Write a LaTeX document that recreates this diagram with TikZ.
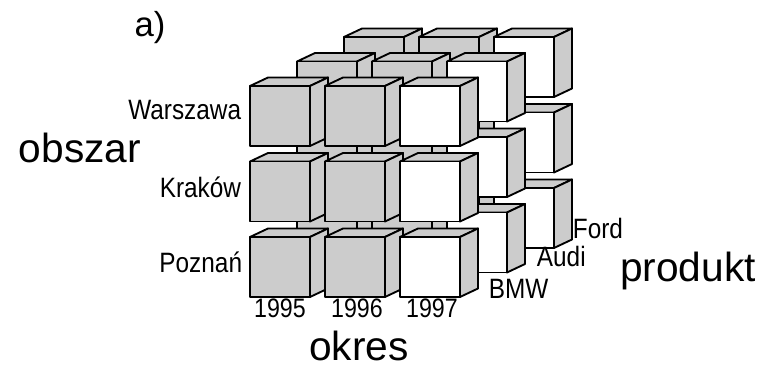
\documentclass[tikz,border=0pt]{standalone}
\usepackage{fontspec}
\setmainfont{Liberation Sans}
\newfontfamily\narrowfont[FakeStretch=0.87]{Liberation Sans}
\usepackage{tikz}

\definecolor{cubegray}{gray}{0.8}

\tikzset{
    axislabel/.style={inner sep=0pt, font=\fontsize{30.5}{36}\selectfont},
    itemlabel/.style={inner sep=0pt, font=\narrowfont\fontsize{21}{25}\selectfont},
    yearlabel/.style={inner sep=0pt, font=\narrowfont\fontsize{20}{24}\selectfont}
}

% one cube: top-left corner of the front face, fill of the front face
\newcommand{\drawcube}[3]{
    \filldraw[fill=cubegray] (#1,#2) -- ++(18,-8.5) -- ++(60,0) -- ++(-18,8.5) -- cycle;
    \filldraw[fill=cubegray] (#1+60,#2) -- ++(18,-8.5) -- ++(0,60) -- ++(-18,8.5) -- cycle;
    \filldraw[fill=#3] (#1,#2) rectangle ++(60,60);
}

\begin{document}
\begin{tikzpicture}[x=0.75pt, y=-0.75pt, line width=1.4pt, line join=round]
    \useasboundingbox (0,0) rectangle (764,370);

    % Cubes (back layer first)
    \foreach \l in {2,1,0}
        \foreach \r in {0,1,2}
            \foreach \c/\front in {0/cubegray,1/cubegray,2/white} {
                \drawcube{250+75*\c+47*\l}{86+75.5*\r-24.5*\l}{\front}
            }

    % Title
    \node[inner sep=0pt, anchor=base, font=\fontsize{26}{30}\selectfont] (title) at (150,37) {a)};

    % Axes
    \node[axislabel, anchor=base] (obszar) at (80,163) {obszar};
    \node[axislabel, anchor=base] (okres) at (359,360) {okres};
    \node[axislabel, anchor=base] (produkt) at (688,282) {produkt};

    % Cities
    \node[itemlabel, anchor=base east] (warszawa) at (242,120) {Warszawa};
    \node[itemlabel, anchor=base east] (krakow) at (242,198) {Kraków};
    \node[itemlabel, anchor=base east] (poznan) at (243,273) {Poznań};

    % Years
    \node[yearlabel, anchor=base] (y1995) at (280,318) {1995};
    \node[yearlabel, anchor=base] (y1996) at (357,318) {1996};
    \node[yearlabel, anchor=base] (y1997) at (432,318) {1997};

    % Makes
    \node[itemlabel, anchor=base west] (ford) at (572,239) {Ford};
    \node[itemlabel, anchor=base west] (audi) at (536,267) {Audi};
    \node[itemlabel, anchor=base west] (bmw) at (488,299) {BMW};
\end{tikzpicture}
\end{document}
